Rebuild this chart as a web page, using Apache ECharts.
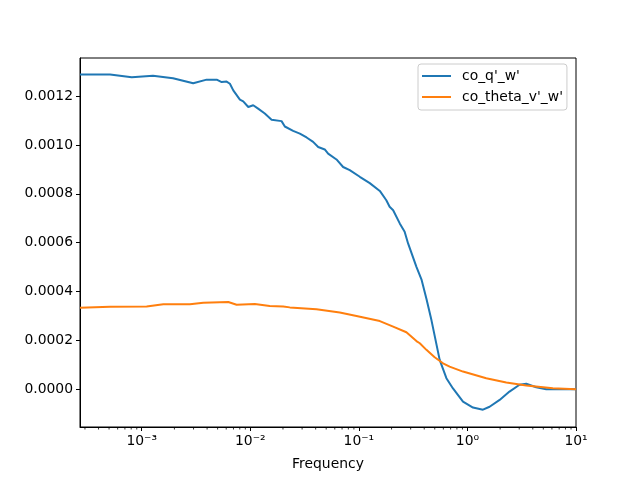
<!DOCTYPE html>
<html>
<head>
<meta charset="utf-8">
<script src="https://cdn.jsdelivr.net/npm/echarts@6/dist/echarts.min.js"></script>
<style>
  html, body { margin: 0; background: #fff; }
  #chart { width: 640px; height: 480px; }
</style>
</head>
<body>
<div id="chart"></div>
<script>
// valores (frequência, cospectro)
const freqQ = [2.7e-4, 5.11e-4, 8.09e-4, 1.27e-3, 1.94e-3, 2.98e-3, 3.96e-3, 4.9e-3, 5.45e-3, 6.05e-3,
  6.49e-3, 6.97e-3, 8.02e-3, 8.61e-3, 9.58e-3, 1.064e-2, 1.18e-2, 1.36e-2, 1.57e-2, 1.94e-2,
  2.08e-2, 2.48e-2, 2.86e-2, 3.3e-2, 3.79e-2, 4.22e-2, 4.85e-2, 5.21e-2, 6.22e-2, 7.16e-2,
  8.24e-2, 0.102, 0.126, 0.156, 0.179, 0.192, 0.207, 0.238, 0.264, 0.274,
  0.284, 0.339, 0.377, 0.419, 0.466, 0.555, 0.64, 0.736, 0.91, 1.125,
  1.39, 1.6, 1.98, 2.44, 3.02, 3.48, 4.3, 5.32, 7.05, 10];
const coQW = [0.001289, 0.001289, 0.001278, 0.001284, 0.001274, 0.001253, 0.001268, 0.001268, 0.001258, 0.00126,
  0.001251, 0.001224, 0.001186, 0.001179, 0.001156, 0.001163, 0.001149, 0.001129, 0.001104, 0.001098,
  0.001076, 0.001058, 0.001047, 0.001031, 0.001013, 0.000992, 0.000982, 0.000965, 0.000941, 0.00091,
  0.000897, 0.00087, 0.000844, 0.000812, 0.000774, 0.000747, 0.000733, 0.000679, 0.000645, 0.000638,
  0.000597, 0.000501, 0.00045, 0.00037, 0.000283, 0.00012, 0.000045, 0.000003, -0.000051, -0.0000755,
  -0.000084, -0.000072, -0.000044, -0.00001, 0.000018, 0.000022, 0.000008, 0, 0.000001, 0];

const freqTheta = [2.7e-4, 5.11e-4, 1.11e-3, 1.58e-3, 2.78e-3, 3.69e-3, 6.27e-3, 7.48e-3, 1.1e-2, 1.51e-2,
  2.01e-2, 2.31e-2, 4.07e-2, 6.67e-2, 9.51e-2, 0.156, 0.207, 0.274, 0.339, 0.364,
  0.419, 0.499, 0.596, 0.685, 0.91, 1.49, 2.28, 3.48, 6.12, 10];
const coThetaVW = [0.000333, 0.000338, 0.000339, 0.000348, 0.000348, 0.000354, 0.000357, 0.000346, 0.000349, 0.000341,
  0.000339, 0.000335, 0.000327, 0.000314, 0.0003, 0.000279, 0.000256, 0.000233, 0.000197, 0.000188,
  0.000161, 0.000131, 0.000106, 0.0000924, 0.000072, 0.000045, 0.000027, 0.0000147, 0.000004, 0];

const xMin = 2.7e-4, xMax = 10;
const yMin = -0.000155, yMax = 0.0013566;
const majorLabels = { '-3': '10⁻³', '-2': '10⁻²', '-1': '10⁻¹', '0': '10⁰', '1': '10¹' };
const minorTicks = [3e-4, 4e-4, 5e-4, 6e-4, 7e-4, 8e-4, 9e-4,
  2e-3, 3e-3, 4e-3, 5e-3, 6e-3, 7e-3, 8e-3, 9e-3,
  2e-2, 3e-2, 4e-2, 5e-2, 6e-2, 7e-2, 8e-2, 9e-2,
  0.2, 0.3, 0.4, 0.5, 0.6, 0.7, 0.8, 0.9,
  2, 3, 4, 5, 6, 7, 8, 9];

const fonte = 'DejaVu Sans';
const chart = echarts.init(document.getElementById('chart'));

chart.setOption({
  animation: false,
  backgroundColor: '#fff',
  textStyle: { fontFamily: fonte },
  grid: { left: 80, right: 64, top: 58, bottom: 53, show: true, borderColor: '#000', borderWidth: 1, backgroundColor: 'transparent' },
  legend: {
    left: 418, top: 64, orient: 'vertical',
    data: ["co_q'_w'", "co_theta_v'_w'"],
    icon: 'rect', itemWidth: 29, itemHeight: 2, itemGap: 7,
    padding: [5, 4, 6, 4],
    borderColor: '#cccccc', borderWidth: 1, borderRadius: 3,
    backgroundColor: 'rgba(255,255,255,0.8)',
    textStyle: { fontFamily: fonte, fontSize: 13.9, color: '#000', padding: [0, 0, 0, 6] }
  },
  xAxis: {
    type: 'log', min: xMin, max: xMax, logBase: 10,
    name: 'Frequency', nameLocation: 'middle', nameGap: 30,
    nameTextStyle: { fontFamily: fonte, fontSize: 13.9, color: '#000' },
    axisLine: { onZero: false, lineStyle: { color: '#000', width: 1 } },
    axisTick: { inside: false, length: 4, lineStyle: { color: '#000' } },
    axisLabel: {
      showMinLabel: false, margin: 7, fontFamily: fonte, fontSize: 13.9, color: '#000',
      formatter: v => majorLabels[String(Math.round(Math.log10(v)))] || ''
    },
    splitLine: { show: false }
  },
  yAxis: {
    type: 'value', min: yMin, max: yMax, splitNumber: 7,
    axisLine: { show: true, lineStyle: { color: '#000', width: 1 } },
    axisTick: { show: true, length: 4, lineStyle: { color: '#000' } },
    axisLabel: {
      showMinLabel: false, showMaxLabel: false, margin: 7,
      fontFamily: fonte, fontSize: 13.9, color: '#000',
      formatter: v => v.toFixed(4)
    },
    splitLine: { show: false }
  },
  series: [
    {
      name: "co_q'_w'", type: 'line', showSymbol: false,
      data: freqQ.map((f, i) => [f, coQW[i]]),
      lineStyle: { color: '#1f77b4', width: 2 }, itemStyle: { color: '#1f77b4' }
    },
    {
      name: "co_theta_v'_w'", type: 'line', showSymbol: false,
      data: freqTheta.map((f, i) => [f, coThetaVW[i]]),
      lineStyle: { color: '#ff7f0e', width: 2 }, itemStyle: { color: '#ff7f0e' }
    },
    {
      // ticks menores do eixo log
      type: 'custom', silent: true, clip: false,
      data: minorTicks.map(f => [f]),
      encode: { x: 0 },
      renderItem: (params, api) => {
        const p = api.coord([api.value(0), yMin]);
        return {
          type: 'line',
          shape: { x1: p[0], y1: p[1], x2: p[0], y2: p[1] + 2.5 },
          style: { stroke: '#000', lineWidth: 0.8 }
        };
      }
    }
  ]
});
</script>
</body>
</html>
